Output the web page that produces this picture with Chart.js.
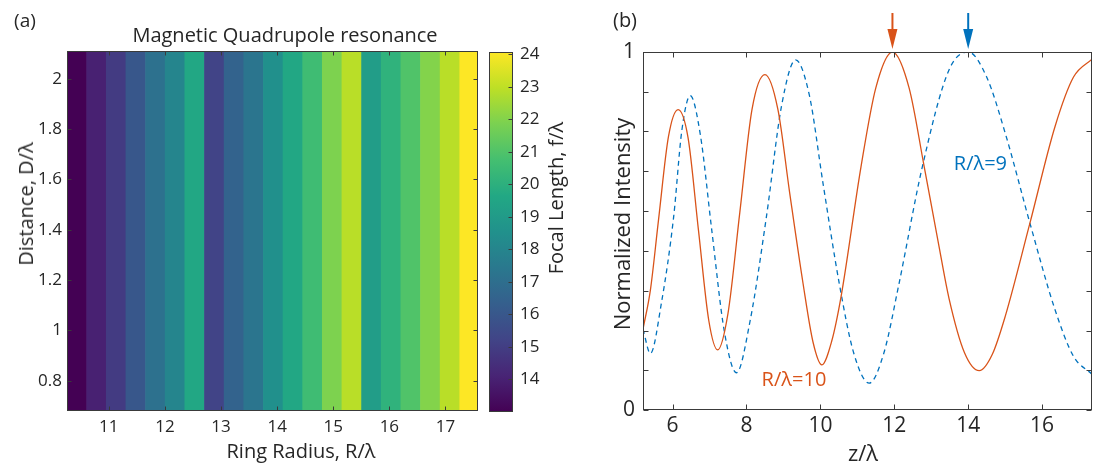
<!DOCTYPE html>
<html lang="en">

<head>
    <meta charset="UTF-8">
    <title>Ring focusing</title>
    <script src="https://cdn.jsdelivr.net/npm/chart.js"></script>
    <style>
        body { margin: 0; background: #fff; }
        #figura { position: relative; width: 1093px; height: 465px; overflow: hidden; font-family: "Open Sans", sans-serif; color: #262626; }
        #figura canvas { position: absolute; top: 0; }
        .texto { position: absolute; white-space: nowrap; line-height: 1; transform: translate(-50%, -50%); }
        .vertical { transform: translate(-50%, -50%) rotate(-90deg); }
    </style>
</head>

<body>
    <div id="figura">
        <canvas id="mapaCanvas" width="480" height="465" style="left:0px"></canvas>
        <canvas id="barraCanvas" width="120" height="465" style="left:480px"></canvas>
        <canvas id="curvaCanvas" width="493" height="465" style="left:600px"></canvas>

        <!-- textos do painel (a) -->
        <div class="texto" style="left:25px; top:20px; font-size:19px">(a)</div>
        <div class="texto" style="left:285px; top:35px; font-size:20px">Magnetic Quadrupole resonance</div>
        <div class="texto" style="left:301px; top:451px; font-size:20px">Ring Radius, R/λ</div>
        <div class="texto vertical" style="left:26px; top:204px; font-size:20px">Distance, D/λ</div>
        <div class="texto vertical" style="left:556px; top:198px; font-size:20px">Focal Length, f/λ</div>

        <!-- textos do painel (b) -->
        <div class="texto" style="left:625px; top:20px; font-size:20px">(b)</div>
        <div class="texto" style="left:863px; top:452px; font-size:22px">z/λ</div>
        <div class="texto vertical" style="left:621px; top:224px; font-size:22px">Normalized Intensity</div>
    </div>
</body>

</html>
<script>
    // mapa: centro de cada coluna (R/λ) e a distância focal correspondente (f/λ)
    const raioAnel = [10.43, 10.78, 11.13, 11.48, 11.83, 12.18, 12.53, 12.88, 13.23, 13.58, 13.93,
        14.28, 14.63, 14.98, 15.33, 15.68, 16.03, 16.38, 16.73, 17.08, 17.43];
    const focoAnel = [13.0, 14.0, 14.9, 16.0, 17.1, 18.0, 19.6, 15.2, 16.5, 17.3, 18.5,
        19.6, 20.6, 21.9, 22.9, 19.1, 20.1, 21.0, 22.0, 22.9, 24.07];
    const distanciaFaixa = [0.68, 2.11];
    const raioFaixa = [10.255, 17.58];
    const focoFaixa = [13.0, 24.07];

    const raioTicks = [11, 12, 13, 14, 15, 16, 17];
    const distanciaTicks = [0.8, 1, 1.2, 1.4, 1.6, 1.8, 2];
    const focoTicks = [14, 15, 16, 17, 18, 19, 20, 21, 22, 23, 24];

    // intensidade normalizada ao longo do eixo z/λ
    const zR10 = [5.2, 5.40, 5.62, 5.89, 6.15, 6.42, 6.70, 6.98, 7.22, 7.50, 7.82, 8.15, 8.50, 8.85,
        9.17, 9.53, 9.80, 10.04, 10.30, 10.56, 11.10, 11.50, 11.95, 12.40, 12.80, 13.21, 13.48,
        13.90, 14.30, 14.65, 15.0, 15.67, 16.35, 16.85, 17.35];
    const intR10 = [0.226, 0.335, 0.531, 0.764, 0.839, 0.76, 0.503, 0.25, 0.168, 0.27, 0.552, 0.84, 0.937, 0.84,
        0.606, 0.354, 0.19, 0.126, 0.19, 0.317, 0.68, 0.90, 1.0, 0.90, 0.685, 0.457, 0.312,
        0.16, 0.110, 0.155, 0.261, 0.522, 0.792, 0.93, 0.98];

    const zR9 = [5.2, 5.40, 5.70, 6.03, 6.25, 6.48, 6.75, 7.06, 7.40, 7.73, 8.10, 8.54, 8.95, 9.33, 9.70,
        10.07, 10.51, 10.90, 11.32, 11.72, 12.13, 12.76, 13.48, 14.0, 14.5, 15.0, 15.67, 16.35, 16.85, 17.35];
    const intR9 = [0.226, 0.158, 0.30, 0.54, 0.78, 0.878, 0.77, 0.503, 0.22, 0.104, 0.25, 0.54, 0.85, 0.978, 0.88,
        0.634, 0.354, 0.16, 0.075, 0.16, 0.354, 0.68, 0.95, 1.0, 0.93, 0.774, 0.522, 0.28, 0.15, 0.10];

    const zFaixa = [5.2, 17.35];
    const zTicks = [6, 8, 10, 12, 14, 16];
    const intTicks = [0, 0.111, 0.222, 0.333, 0.444, 0.556, 0.667, 0.778, 0.889, 1];
    // posições dos focos marcadas com setas (R/λ=10 e R/λ=9)
    const picos = [11.95, 14.0];

    const corLaranja = '#d95319';
    const corAzul = '#0072bd';
    const corEixo = '#3a3a3a';
    const corTexto = '#262626';

    Chart.defaults.font.family = '"Open Sans", sans-serif';
    Chart.defaults.color = corTexto;

    // paleta viridis
    const viridis = ['#440154', '#482475', '#414487', '#355f8d', '#2a788e', '#21918c',
        '#22a884', '#44bf70', '#7ad151', '#bddf26', '#fde725'];

    function hexRgb(h) {
        return [parseInt(h.substr(1, 2), 16), parseInt(h.substr(3, 2), 16), parseInt(h.substr(5, 2), 16)];
    }

    function corViridis(v) {
        let t = (v - focoFaixa[0]) / (focoFaixa[1] - focoFaixa[0]);
        t = Math.min(1, Math.max(0, t)) * 10;
        const i = Math.min(9, Math.floor(t));
        const f = t - i;
        const a = hexRgb(viridis[i]);
        const b = hexRgb(viridis[i + 1]);
        const c = a.map((x, k) => Math.round(x + (b[k] - x) * f));
        return 'rgb(' + c.join(',') + ')';
    }

    // caixa em volta da área do gráfico com ticks para dentro
    function pluginCaixa(lados, comp) {
        return {
            id: 'caixa',
            afterDatasetsDraw(chart) {
                const ctx = chart.ctx;
                const a = chart.chartArea;
                const l = Math.round(a.left) + 0.5;
                const r = Math.round(a.right) - 0.5;
                const t = Math.round(a.top) + 0.5;
                const b = Math.round(a.bottom) - 0.5;
                ctx.save();
                ctx.strokeStyle = corEixo;
                ctx.lineWidth = 1;
                ctx.strokeRect(l, t, r - l, b - t);
                ctx.beginPath();
                if (lados.x) {
                    const sx = chart.scales.x;
                    sx.ticks.forEach(function (tk) {
                        const px = Math.round(sx.getPixelForValue(tk.value)) + 0.5;
                        ctx.moveTo(px, b); ctx.lineTo(px, b - comp);
                        ctx.moveTo(px, t); ctx.lineTo(px, t + comp);
                    });
                }
                const sy = chart.scales.y;
                sy.ticks.forEach(function (tk) {
                    const py = Math.round(sy.getPixelForValue(tk.value)) + 0.5;
                    if (lados.esquerda) { ctx.moveTo(l, py); ctx.lineTo(l + comp, py); }
                    if (lados.direita) { ctx.moveTo(r, py); ctx.lineTo(r - comp, py); }
                });
                ctx.stroke();
                ctx.restore();
            }
        };
    }

    // ---------- painel (a): mapa de colunas ----------
    new Chart(document.getElementById('mapaCanvas'), {
        type: 'bar',
        data: {
            datasets: [{
                data: raioAnel.map(function (r) { return { x: r, y: distanciaFaixa }; }),
                backgroundColor: focoAnel.map(corViridis),
                borderWidth: 0,
                barPercentage: 1,
                categoryPercentage: 1
            }]
        },
        options: {
            responsive: false,
            animation: false,
            events: [],
            layout: { padding: { top: 51, right: 2, left: 0, bottom: 0 } },
            plugins: { legend: { display: false }, tooltip: { enabled: false } },
            scales: {
                x: {
                    type: 'linear',
                    offset: false,
                    min: raioFaixa[0],
                    max: raioFaixa[1],
                    grid: { display: false, drawTicks: false },
                    border: { display: false },
                    afterBuildTicks: function (s) { s.ticks = raioTicks.map(function (v) { return { value: v }; }); },
                    afterFit: function (s) { s.height = 54; },
                    ticks: { font: { size: 17 }, padding: 6, maxRotation: 0, autoSkip: false, color: corTexto }
                },
                y: {
                    min: distanciaFaixa[0],
                    max: distanciaFaixa[1],
                    grid: { display: false, drawTicks: false },
                    border: { display: false },
                    afterBuildTicks: function (s) { s.ticks = distanciaTicks.map(function (v) { return { value: v }; }); },
                    afterFit: function (s) { s.width = 67; },
                    ticks: {
                        font: { size: 17 }, padding: 5, autoSkip: false, color: corTexto,
                        callback: function (v) { return String(+v.toFixed(2)); }
                    }
                }
            }
        },
        plugins: [pluginCaixa({ x: true, esquerda: true, direita: true }, 4)]
    });

    // ---------- barra de cores ----------
    new Chart(document.getElementById('barraCanvas'), {
        type: 'bar',
        data: {
            labels: ['f'],
            datasets: [{
                data: [focoFaixa],
                borderWidth: 0,
                barPercentage: 1,
                categoryPercentage: 1,
                backgroundColor: function (context) {
                    const area = context.chart.chartArea;
                    if (!area) return null;
                    const g = context.chart.ctx.createLinearGradient(0, area.bottom, 0, area.top);
                    viridis.forEach(function (c, i) { g.addColorStop(i / 10, c); });
                    return g;
                }
            }]
        },
        options: {
            responsive: false,
            animation: false,
            events: [],
            layout: { padding: { top: 52, left: 9, right: 0, bottom: 53 } },
            plugins: { legend: { display: false }, tooltip: { enabled: false } },
            scales: {
                x: { display: false },
                y: {
                    position: 'right',
                    min: focoFaixa[0],
                    max: focoFaixa[1],
                    grid: { display: false, drawTicks: false },
                    border: { display: false },
                    afterBuildTicks: function (s) { s.ticks = focoTicks.map(function (v) { return { value: v }; }); },
                    afterFit: function (s) { s.width = 87; },
                    ticks: { font: { size: 17 }, padding: 7, autoSkip: false, color: corTexto }
                }
            }
        },
        plugins: [pluginCaixa({ x: false, esquerda: false, direita: true }, 4)]
    });

    // ---------- painel (b): intensidade ao longo de z ----------
    const pluginRotulos = {
        id: 'rotulos',
        afterDatasetsDraw(chart) {
            const ctx = chart.ctx;
            const sx = chart.scales.x;
            const sy = chart.scales.y;
            ctx.save();
            ctx.font = '20px "Open Sans"';
            ctx.textBaseline = 'middle';
            ctx.fillStyle = corAzul;
            ctx.fillText('R/λ=9', sx.getPixelForValue(13.61), sy.getPixelForValue(0.685));
            ctx.fillStyle = corLaranja;
            ctx.fillText('R/λ=10', sx.getPixelForValue(8.41), sy.getPixelForValue(0.084));

            // setas apontando para os focos
            const cores = [corLaranja, corAzul];
            picos.forEach(function (z, i) {
                const px = sx.getPixelForValue(z);
                const topo = chart.chartArea.top;
                ctx.strokeStyle = cores[i];
                ctx.fillStyle = cores[i];
                ctx.lineWidth = 2;
                ctx.beginPath();
                ctx.moveTo(px, topo - 39);
                ctx.lineTo(px, topo - 20);
                ctx.stroke();
                ctx.beginPath();
                ctx.moveTo(px - 5, topo - 23);
                ctx.lineTo(px + 5, topo - 23);
                ctx.lineTo(px, topo - 3);
                ctx.closePath();
                ctx.fill();
            });
            ctx.restore();
        }
    };

    new Chart(document.getElementById('curvaCanvas'), {
        type: 'line',
        data: {
            datasets: [
                {
                    label: 'R/λ=10',
                    data: zR10.map(function (z, i) { return { x: z, y: intR10[i] }; }),
                    borderColor: corLaranja,
                    borderWidth: 1.3,
                    pointRadius: 0,
                    fill: false,
                    cubicInterpolationMode: 'monotone'
                },
                {
                    label: 'R/λ=9',
                    data: zR9.map(function (z, i) { return { x: z, y: intR9[i] }; }),
                    borderColor: corAzul,
                    borderWidth: 1.3,
                    borderDash: [5, 4],
                    pointRadius: 0,
                    fill: false,
                    cubicInterpolationMode: 'monotone'
                }
            ]
        },
        options: {
            responsive: false,
            animation: false,
            events: [],
            layout: { padding: { top: 52, right: 1, left: 0, bottom: 0 } },
            plugins: { legend: { display: false }, tooltip: { enabled: false } },
            scales: {
                x: {
                    type: 'linear',
                    min: zFaixa[0],
                    max: zFaixa[1],
                    grid: { display: false, drawTicks: false },
                    border: { display: false },
                    afterBuildTicks: function (s) { s.ticks = zTicks.map(function (v) { return { value: v }; }); },
                    afterFit: function (s) { s.height = 55; },
                    ticks: { font: { size: 21 }, padding: 3, maxRotation: 0, autoSkip: false, color: corTexto }
                },
                y: {
                    min: 0,
                    max: 1,
                    grid: { display: false, drawTicks: false },
                    border: { display: false },
                    afterBuildTicks: function (s) { s.ticks = intTicks.map(function (v) { return { value: v }; }); },
                    afterFit: function (s) { s.width = 43; },
                    ticks: {
                        font: { size: 21 }, padding: 8, autoSkip: false, color: corTexto,
                        callback: function (v) { return (v === 0 || v === 1) ? String(v) : ''; }
                    }
                }
            }
        },
        plugins: [pluginCaixa({ x: true, esquerda: true, direita: true }, 5), pluginRotulos]
    });
</script>
